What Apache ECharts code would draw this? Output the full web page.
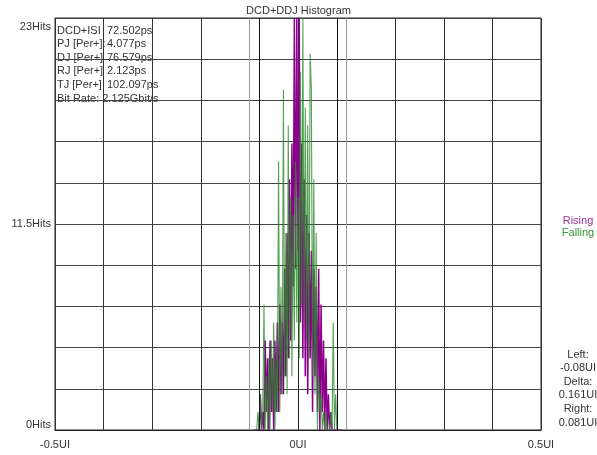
<!DOCTYPE html>
<html>
<head>
<meta charset="utf-8">
<script src="https://cdn.jsdelivr.net/npm/echarts@6/dist/echarts.min.js"></script>
<style>
html,body{margin:0;padding:0;background:#fff;}
#chart{width:597px;height:455px;}
</style>
</head>
<body>
<div id="chart"></div>
<script>
// ---- data ----
const titleText = 'DCD+DDJ Histogram';
const xTickLabels = { '-0.5': '-0.5UI', '0': '0UI', '0.5': '0.5UI' };
const yTickLabels = { '0': '0Hits', '11.5': '11.5Hits', '23': '23Hits' };
const binStartUI = -0.09;
const binStepUI = 0.0025;
const risingHits = [
  0,0,0,0, 0,2,0,1, 0,5,1,4, 0,5,1,4, 0,5,1,6, 1,7,2,6,
  2,9,3,11, 4,14,5,16, 8,23,9,23, 10,23,6,16, 4,14,3,12,
  2,11,4,10, 1,9,3,8, 1,9,0,7, 1,5,0,4, 0,2,0,1,
  0,0,0,0, 0,0,0,0, 0
];
const fallingHits = [
  0,0,0,1, 0,2,0,1, 7,0,3,0, 4,0,5,1, 6,0,4,1, 15,1,8,2,
  19,3,11,2, 17,4,13,3, 12,5,15,6, 13,4,20,7, 23,6,18,5,
  17,4,21,19, 3,14,2,11, 0,3,1,2, 0,1,0,1, 0,0,0,1,
  0,6,0,2, 0,0,0,0, 0
];
const infoLabels = ['DCD+ISI', 'PJ [Per+]:', 'DJ [Per+]', 'RJ [Per+]', 'TJ [Per+]:'];
const infoValues = ['72.502ps', '4.077ps', '76.579ps', '2.123ps', '102.097ps'];
const bitRateText = 'Bit Rate: 2.125Gbit/s';
const legendNames = ['Rising', 'Falling'];
const cursorLeftUI = -0.08;
const cursorRightUI = 0.081;
const cursorTexts = ['Left:', '-0.08UI', 'Delta:', '0.161UI', 'Right:', '0.081UI'];
const lightGridUI = [-0.1, 0.1];

// ---- build ----
const toPairs = arr => arr.map((v, i) => [binStartUI + i * binStepUI, v]);
const FONT = 'Liberation Sans, Arial, sans-serif';
const TXT = '#333';

const graphics = [];
graphics.push({ type: 'text', left: 'center', top: 5, style: { text: titleText, fill: TXT, font: '11px ' + FONT } });
infoLabels.forEach((t, i) => {
  graphics.push({ type: 'text', x: 57, y: 25 + i * 13.6, style: { text: t, fill: TXT, font: '11px ' + FONT } });
  graphics.push({ type: 'text', x: 107, y: 25 + i * 13.6, style: { text: infoValues[i], fill: TXT, font: '11px ' + FONT } });
});
graphics.push({ type: 'text', x: 57, y: 25 + 5 * 13.6, style: { text: bitRateText, fill: TXT, font: '11px ' + FONT } });
const legendColors = ['#993399', '#339933'];
legendNames.forEach((t, i) => {
  graphics.push({ type: 'text', x: 578, y: 215 + i * 12, style: { text: t, fill: legendColors[i], font: '11px ' + FONT, align: 'center' } });
});
cursorTexts.forEach((t, i) => {
  graphics.push({ type: 'text', x: 578, y: 349 + i * 13.6, style: { text: t, fill: TXT, font: '11px ' + FONT, align: 'center' } });
});

const chart = echarts.init(document.getElementById('chart'), null, { renderer: 'canvas' });
chart.setOption({
  animation: false,
  backgroundColor: '#fff',
  grid: { left: 55, right: 56, top: 18, bottom: 25, show: true, borderColor: '#222', borderWidth: 1 },
  xAxis: {
    type: 'value', min: -0.5, max: 0.5, interval: 0.1,
    axisLine: { show: true, lineStyle: { color: '#222' } },
    axisTick: { show: false },
    axisLabel: {
      color: TXT, fontFamily: FONT, fontSize: 11, margin: 9,
      formatter: v => { const k = String(Math.round(v * 10) / 10); return xTickLabels[k] || ''; }
    },
    splitLine: { show: true, lineStyle: { color: '#333', width: 1 } }
  },
  yAxis: {
    type: 'value', min: 0, max: 23, interval: 2.3,
    axisLine: { show: true, lineStyle: { color: '#222' } },
    axisTick: { show: false },
    axisLabel: {
      color: TXT, fontFamily: FONT, fontSize: 11, margin: 4,
      verticalAlignMinLabel: 'bottom', verticalAlignMaxLabel: 'top',
      formatter: v => {
        const k = String(Math.round(v * 10) / 10);
        const s = yTickLabels[k] || '';
        return k === '23' ? '{t|' + s + '}' : s;
      },
      rich: { t: { padding: [3, 0, 0, 0], color: TXT, fontFamily: FONT, fontSize: 11 } }
    },
    splitLine: { show: true, lineStyle: { color: '#444', width: 1 } }
  },
  graphic: graphics,
  series: [
    {
      name: legendNames[0], type: 'line', data: toPairs(risingHits), showSymbol: false,
      lineStyle: { color: '#8b008b', width: 1.5 }, z: 3,
      markLine: {
        silent: true, symbol: 'none', label: { show: false },
        data: lightGridUI.map(x => ({ xAxis: x, lineStyle: { color: '#999', width: 1, type: 'solid' } }))
          .concat([cursorLeftUI, cursorRightUI].map(x => ({ xAxis: x, lineStyle: { color: '#111', width: 1, type: 'solid' } })))
      }
    },
    {
      name: legendNames[1], type: 'line', data: toPairs(fallingHits), showSymbol: false,
      lineStyle: { color: '#2a8a2a', width: 1.1, opacity: 0.8 }, z: 4
    }
  ]
});
</script>
</body>
</html>
